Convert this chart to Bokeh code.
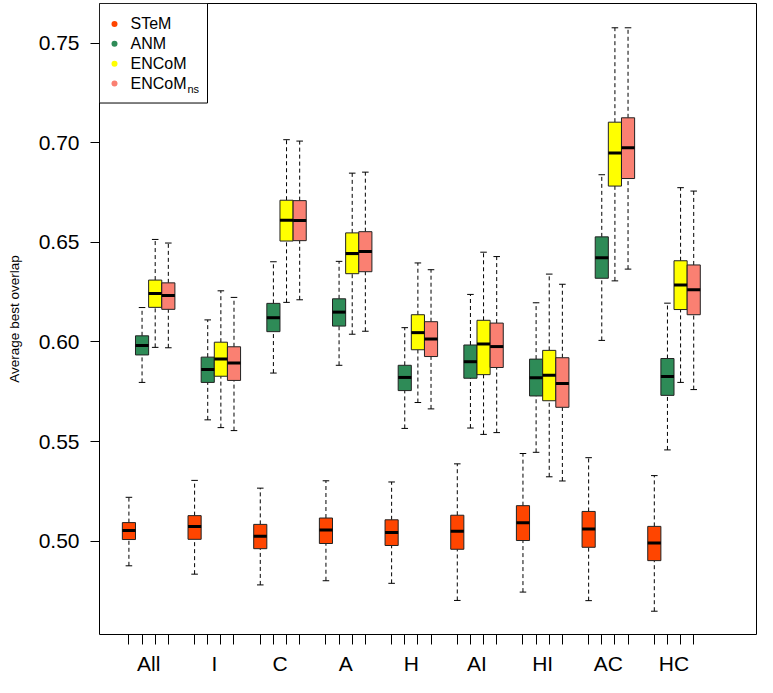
from bokeh.plotting import figure
from bokeh.models import ColumnDataSource, FixedTicker, Range1d, NumeralTickFormatter
from bokeh.embed import file_html
from bokeh.resources import INLINE
from bokeh.core.properties import value

groups = ["All", "I", "C", "A", "H", "AI", "HI", "AC", "HC"]
methods = ["STeM", "ANM", "ENCoM", "ENCoMns"]
method_colors = ["#FF4500", "#2E8B57", "#FFFF00", "#FA8072"]

# five-number summaries (lower whisker, Q1, median, Q3, upper whisker) per group
stem_low = [0.4876, 0.4834, 0.4780, 0.4801, 0.4788, 0.4702, 0.4744, 0.4701, 0.4648]
stem_q1 = [0.5008, 0.5009, 0.4962, 0.4988, 0.4978, 0.4959, 0.5003, 0.4969, 0.4902]
stem_med = [0.5053, 0.5073, 0.5024, 0.5056, 0.5043, 0.5050, 0.5092, 0.5061, 0.4990]
stem_q3 = [0.5093, 0.5128, 0.5084, 0.5116, 0.5107, 0.5130, 0.5178, 0.5149, 0.5074]
stem_high = [0.5220, 0.5305, 0.5266, 0.5303, 0.5297, 0.5388, 0.5440, 0.5419, 0.5329]

anm_low = [0.5797, 0.5609, 0.5844, 0.5883, 0.5566, 0.5568, 0.5446, 0.6008, 0.5458]
anm_q1 = [0.5935, 0.5797, 0.6052, 0.6080, 0.5756, 0.5818, 0.5729, 0.6320, 0.5732]
anm_med = [0.5983, 0.5862, 0.6122, 0.6150, 0.5822, 0.5901, 0.5820, 0.6423, 0.5827]
anm_q3 = [0.6031, 0.5924, 0.6194, 0.6217, 0.5883, 0.5985, 0.5914, 0.6528, 0.5917]
anm_high = [0.6173, 0.6111, 0.6403, 0.6405, 0.6072, 0.6239, 0.6197, 0.6840, 0.6195]

encom_low = [0.5973, 0.5570, 0.6199, 0.6039, 0.5696, 0.5536, 0.5323, 0.6307, 0.5797]
encom_q1 = [0.6174, 0.5828, 0.6507, 0.6343, 0.5961, 0.5836, 0.5705, 0.6783, 0.6163]
encom_med = [0.6244, 0.5914, 0.6611, 0.6444, 0.6047, 0.5990, 0.5833, 0.6949, 0.6286]
encom_q3 = [0.6311, 0.5999, 0.6712, 0.6548, 0.6137, 0.6109, 0.5958, 0.7104, 0.6408]
encom_high = [0.6515, 0.6257, 0.7016, 0.6848, 0.6397, 0.6451, 0.6341, 0.7578, 0.6775]

encomns_low = [0.5971, 0.5555, 0.6212, 0.6054, 0.5664, 0.5545, 0.5302, 0.6366, 0.5761]
encomns_q1 = [0.6164, 0.5807, 0.6509, 0.6353, 0.5927, 0.5872, 0.5672, 0.6821, 0.6137]
encomns_med = [0.6233, 0.5895, 0.6610, 0.6455, 0.6015, 0.5977, 0.5792, 0.6975, 0.6263]
encomns_q3 = [0.6297, 0.5976, 0.6710, 0.6554, 0.6102, 0.6095, 0.5921, 0.7126, 0.6387]
encomns_high = [0.6497, 0.6224, 0.7009, 0.6853, 0.6363, 0.6429, 0.6290, 0.7578, 0.6758]

y_ticks = [0.50, 0.55, 0.60, 0.65, 0.70, 0.75]

all_stats = [
    (stem_low, stem_q1, stem_med, stem_q3, stem_high),
    (anm_low, anm_q1, anm_med, anm_q3, anm_high),
    (encom_low, encom_q1, encom_med, encom_q3, encom_high),
    (encomns_low, encomns_q1, encomns_med, encomns_q3, encomns_high),
]

W, H = 757, 677
BL, BR, BT, BB = 99, 1, 3, 40
X0, X1 = -2.48, 97.56
Y0, Y1 = 0.4531, 0.770
BOX_W = 2.0
CAP_W = 1.0

data = dict(x=[], left=[], right=[], cl=[], cr=[], lo=[], q1=[], med=[], q3=[], hi=[], color=[])
box_pos = []
label_pos = []
for gi, g in enumerate(groups):
    label_pos.append(10 * gi + 5)
    for mi, st in enumerate(all_stats):
        x = 10 * gi + 2 * mi + 2
        box_pos.append(x)
        data["x"].append(x)
        data["left"].append(x - BOX_W / 2)
        data["right"].append(x + BOX_W / 2)
        data["cl"].append(x - CAP_W / 2)
        data["cr"].append(x + CAP_W / 2)
        data["lo"].append(st[0][gi])
        data["q1"].append(st[1][gi])
        data["med"].append(st[2][gi])
        data["q3"].append(st[3][gi])
        data["hi"].append(st[4][gi])
        data["color"].append(method_colors[mi])
src = ColumnDataSource(data)

p = figure(width=W, height=H, output_backend="svg", toolbar_location=None,
           x_range=Range1d(X0, X1), y_range=Range1d(Y0, Y1),
           min_border_left=BL, min_border_right=BR, min_border_top=BT, min_border_bottom=BB,
           background_fill_color="white", border_fill_color="white")
p.xgrid.visible = False
p.ygrid.visible = False
p.outline_line_color = "black"
p.outline_line_width = 1
p.outline_line_alpha = 1.0

FONT = "Liberation Sans"

# whiskers
p.segment(x0="x", y0="q3", x1="x", y1="hi", source=src, line_color="black", line_width=1, line_dash="4 3")
p.segment(x0="x", y0="lo", x1="x", y1="q1", source=src, line_color="black", line_width=1, line_dash="4 3")
p.segment(x0="cl", y0="hi", x1="cr", y1="hi", source=src, line_color="black", line_width=1)
p.segment(x0="cl", y0="lo", x1="cr", y1="lo", source=src, line_color="black", line_width=1)
# boxes
p.quad(left="left", right="right", bottom="q1", top="q3", source=src,
       fill_color="color", line_color="#222222", line_width=1)
# medians
p.segment(x0="left", y0="med", x1="right", y1="med", source=src, line_color="black", line_width=3)

# x axis
xa = p.xaxis[0]
xa.ticker = FixedTicker(ticks=label_pos, minor_ticks=box_pos)
xa.major_label_overrides = {lp: g for lp, g in zip(label_pos, groups)}
xa.major_tick_out = 0
xa.major_tick_in = 0
xa.minor_tick_out = 10
xa.minor_tick_in = 0
xa.minor_tick_line_color = "black"
xa.axis_line_color = None
xa.major_label_text_font = FONT
xa.major_label_text_font_size = "21px"
xa.major_label_text_color = "black"
xa.major_label_standoff = 7

# y axis
ya = p.yaxis[0]
ya.ticker = FixedTicker(ticks=y_ticks)
ya.formatter = NumeralTickFormatter(format="0.00")
ya.major_tick_out = 9
ya.major_tick_in = 0
ya.minor_tick_out = 0
ya.minor_tick_in = 0
ya.axis_line_color = None
ya.major_tick_line_color = "black"
ya.major_label_text_font = FONT
ya.major_label_text_font_size = "21px"
ya.major_label_text_color = "black"
ya.major_label_standoff = 11
ya.axis_label = "Average best overlap"
ya.axis_label_text_font = FONT
ya.axis_label_text_font_size = "13.5px"
ya.axis_label_text_font_style = "normal"
ya.axis_label_text_color = "black"
ya.axis_label_standoff = 14

# legend (positions in frame pixels)
fw = W - BL - BR
fh = H - BT - BB


def dx(px):
    return X0 + px * (X1 - X0) / fw


def dy(py):
    return Y1 - py * (Y1 - Y0) / fh


p.quad(left=[X0], right=[dx(108)], top=[Y1], bottom=[dy(100)],
       fill_color="white", line_color="black", line_width=1)
leg_y = [dy(20.5 + 20 * k) for k in range(4)]
p.scatter(x=[dx(15)] * 4, y=leg_y, size=6, fill_color=method_colors, line_color=None)
p.text(x=[dx(31)] * 4, y=leg_y, text=["STeM", "ANM", "ENCoM", "ENCoM"],
       text_baseline="middle", text_align="left", text_font=value(FONT),
       text_font_size="16px", text_color="black")
p.text(x=[dx(31)], y=[leg_y[3]], text=["ns"], x_offset=57, y_offset=5,
       text_baseline="middle", text_align="left", text_font=value(FONT),
       text_font_size="11px", text_color="black")

open("out.html", "w").write(file_html(p, INLINE))
